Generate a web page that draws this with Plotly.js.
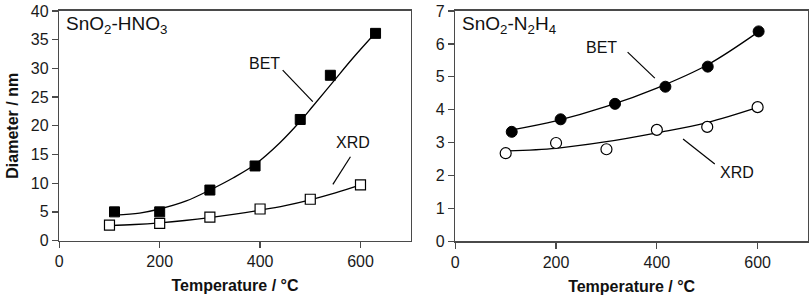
<!DOCTYPE html>
<html>
<head>
<meta charset="utf-8">
<script src="https://cdn.plot.ly/plotly-3.0.1.min.js"></script>
<style>html,body{margin:0;padding:0;background:#fff;}#chart{width:811px;height:297px;}</style>
</head>
<body>
<div id="chart"></div>
<script>
// ---- Data ----
// Left panel: SnO2-HNO3
const hno3BetT = [110, 200, 300, 390, 480, 540, 630];
const hno3BetD = [5.0, 5.0, 8.8, 13.0, 21.1, 28.8, 36.1];
const hno3XrdT = [100, 200, 300, 400, 500, 600];
const hno3XrdD = [2.7, 3.0, 4.1, 5.5, 7.2, 9.7];
// fitted trend curves
const hno3BetFitT = [112, 160, 200, 253, 300, 346, 389, 439, 479, 505, 545, 585, 630];
const hno3BetFitD = [4.45, 4.8, 5.5, 6.9, 8.8, 10.9, 13.2, 17.0, 20.7, 23.4, 27.6, 31.8, 36.2];
const hno3XrdFitT = [100, 150, 200, 250, 300, 350, 400, 450, 500, 550, 600];
const hno3XrdFitD = [2.6, 2.8, 3.1, 3.5, 4.0, 4.6, 5.3, 6.1, 7.1, 8.3, 9.7];

// Right panel: SnO2-N2H4
const n2h4BetT = [112, 209, 317, 417, 501, 602];
const n2h4BetD = [3.33, 3.71, 4.18, 4.70, 5.31, 6.38];
const n2h4XrdT = [100, 200, 300, 400, 500, 600];
const n2h4XrdD = [2.68, 2.99, 2.80, 3.39, 3.48, 4.08];
const n2h4BetFitT = [110, 200, 300, 400, 500, 600];
const n2h4BetFitD = [3.38, 3.66, 4.10, 4.66, 5.36, 6.35];
const n2h4XrdFitT = [100, 200, 300, 400, 500, 600];
const n2h4XrdFitD = [2.75, 2.83, 3.03, 3.30, 3.61, 4.07];

const xTicks = [0, 200, 400, 600];
const yTicksLeft = [0, 5, 10, 15, 20, 25, 30, 35, 40];
const yTicksRight = [0, 1, 2, 3, 4, 5, 6, 7];

// ---- Styles ----
const FONT = 'Liberation Sans, Arial, sans-serif';
const AX = '#4a4a4a';
const fitLine = {color: '#000', width: 1.3, shape: 'spline', smoothing: 1};

const traces = [
  {x: hno3BetFitT, y: hno3BetFitD, mode: 'lines', line: fitLine, xaxis: 'x', yaxis: 'y', hoverinfo: 'skip'},
  {x: hno3XrdFitT, y: hno3XrdFitD, mode: 'lines', line: fitLine, xaxis: 'x', yaxis: 'y', hoverinfo: 'skip'},
  {x: hno3BetT, y: hno3BetD, mode: 'markers', xaxis: 'x', yaxis: 'y',
   marker: {symbol: 'square', size: 10, color: '#000', line: {color: '#000', width: 1}}},
  {x: hno3XrdT, y: hno3XrdD, mode: 'markers', xaxis: 'x', yaxis: 'y',
   marker: {symbol: 'square', size: 10, color: '#fff', line: {color: '#000', width: 1.2}}},
  {x: n2h4BetFitT, y: n2h4BetFitD, mode: 'lines', line: fitLine, xaxis: 'x2', yaxis: 'y2', hoverinfo: 'skip'},
  {x: n2h4XrdFitT, y: n2h4XrdFitD, mode: 'lines', line: fitLine, xaxis: 'x2', yaxis: 'y2', hoverinfo: 'skip'},
  {x: n2h4BetT, y: n2h4BetD, mode: 'markers', xaxis: 'x2', yaxis: 'y2',
   marker: {symbol: 'circle', size: 11, color: '#000', line: {color: '#000', width: 1}}},
  {x: n2h4XrdT, y: n2h4XrdD, mode: 'markers', xaxis: 'x2', yaxis: 'y2',
   marker: {symbol: 'circle', size: 11, color: '#fff', line: {color: '#000', width: 1.2}}}
];

const baseAxis = {
  showgrid: false, zeroline: false, showline: true, linecolor: AX, linewidth: 1.5,
  mirror: true, ticks: 'outside', ticklen: 6, tickwidth: 1.3, tickcolor: AX,
  tickfont: {family: FONT, size: 16, color: '#1a1a1a'}, fixedrange: true
};
const xTitle = {text: 'Temperature / °C', font: {family: FONT, size: 16, color: '#111', weight: 'bold'}, standoff: 10};

const layout = {
  width: 811, height: 297,
  margin: {l: 0, r: 0, t: 0, b: 0},
  paper_bgcolor: '#fff', plot_bgcolor: '#fff',
  showlegend: false,
  font: {family: FONT},
  xaxis: Object.assign({}, baseAxis, {domain: [0.0731, 0.5064], range: [0, 700], tickvals: xTicks, anchor: 'y', title: xTitle}),
  yaxis: Object.assign({}, baseAxis, {domain: [0.190, 0.963], range: [0, 40], tickvals: yTicksLeft, anchor: 'x',
    title: {text: 'Diameter / nm', font: {family: FONT, size: 16, color: '#111', weight: 'bold'}, standoff: 8}}),
  xaxis2: Object.assign({}, baseAxis, {domain: [0.5614, 0.9963], range: [0, 700], tickvals: xTicks, anchor: 'y2', title: xTitle}),
  yaxis2: Object.assign({}, baseAxis, {domain: [0.187, 0.963], range: [0, 7], tickvals: yTicksRight, anchor: 'x2'}),
  annotations: [
    {xref: 'paper', yref: 'paper', x: 0.0790, y: 0.916, xanchor: 'left', yanchor: 'middle', showarrow: false,
     text: 'SnO<sub>2</sub>-HNO<sub>3</sub>', font: {family: FONT, size: 19, color: '#111'}},
    {xref: 'paper', yref: 'paper', x: 0.5674, y: 0.916, xanchor: 'left', yanchor: 'middle', showarrow: false,
     text: 'SnO<sub>2</sub>-N<sub>2</sub>H<sub>4</sub>', font: {family: FONT, size: 19, color: '#111'}},
    {xref: 'x', yref: 'y', x: 409, y: 30.9, showarrow: false, text: 'BET', font: {family: FONT, size: 16, color: '#111'}},
    {xref: 'x', yref: 'y', x: 586, y: 17.0, showarrow: false, text: 'XRD', font: {family: FONT, size: 16, color: '#111'}},
    {xref: 'x2', yref: 'y2', x: 291, y: 5.88, showarrow: false, text: 'BET', font: {family: FONT, size: 16, color: '#111'}},
    {xref: 'x2', yref: 'y2', x: 559, y: 2.08, showarrow: false, text: 'XRD', font: {family: FONT, size: 16, color: '#111'}}
  ],
  shapes: [
    {type: 'line', xref: 'x', yref: 'y', x0: 445, y0: 29.7, x1: 505, y1: 24.2, line: {color: '#000', width: 1.2}},
    {type: 'line', xref: 'x', yref: 'y', x0: 580, y0: 14.6, x1: 545, y1: 9.8, line: {color: '#000', width: 1.2}},
    {type: 'line', xref: 'x2', yref: 'y2', x0: 342, y0: 5.75, x1: 396, y1: 4.96, line: {color: '#000', width: 1.2}},
    {type: 'line', xref: 'x2', yref: 'y2', x0: 515, y0: 2.35, x1: 452, y1: 3.11, line: {color: '#000', width: 1.2}}
  ]
};

Plotly.newPlot('chart', traces, layout, {staticPlot: true, displayModeBar: false});
</script>
</body>
</html>
